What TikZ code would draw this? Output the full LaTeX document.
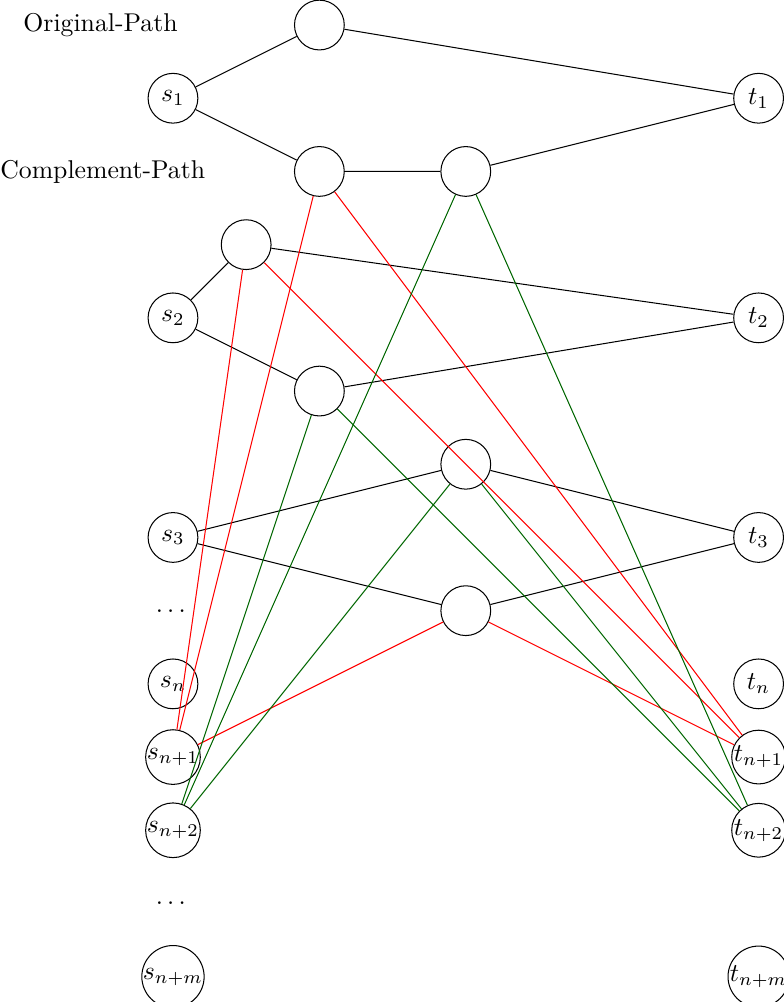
\documentclass[tikz,border=0pt]{standalone}
\usepackage{amsmath,amssymb}
\usepackage{xcolor}
\usepackage{tikz}
\usetikzlibrary{calc}
\definecolor{dgreen}{rgb}{0,0.4,0}

\begin{document}
\begin{tikzpicture}[
    vertex/.style={circle, draw, minimum size=0.68cm, inner sep=0pt},
    redge/.style={red},
    gedge/.style={dgreen}]
        %FRAME
        \useasboundingbox (-2.363,0.342) rectangle (8.347,-13.346);
        %LABELS
        \node (orig) at (-0.99,0) {Original-Path};
        \node (comp) at (-0.96,-2) {Complement-Path};
        %SUMBER
        \node[vertex] (s1) at (0,-1) {$s_1$};
        \node[vertex] (s2) at (0,-4) {$s_2$};
        \node[vertex] (s3) at (0,-7) {$s_3$};
        \node (sdots1) at (0,-8) {$\dots$};
        \node[vertex] (sn) at (0,-9) {$s_n$};
        \node[vertex] (sn1) at (0,-10) {$s_{n+1}$};
        \node[vertex] (sn2) at (0,-11) {$s_{n+2}$};
        \node (sdots2) at (0,-12) {$\dots$};
        \node[vertex] (snm) at (0,-13) {$s_{n+m}$};
        %TUJUAN
        \node[vertex] (t1) at (8,-1) {$t_1$};
        \node[vertex] (t2) at (8,-4) {$t_2$};
        \node[vertex] (t3) at (8,-7) {$t_3$};
        \node[vertex] (tn) at (8,-9) {$t_n$};
        \node[vertex] (tn1) at (8,-10) {$t_{n+1}$};
        \node[vertex] (tn2) at (8,-11) {$t_{n+2}$};
        \node[vertex] (tnm) at (8,-13) {$t_{n+m}$};
        %TENGAH
        \node[vertex] (o1) at (2,0) {};
        \node[vertex] (c1) at (2,-2) {};
        \node[vertex] (c2) at (4,-2) {};
        \node[vertex] (a2) at (1,-3) {};
        \node[vertex] (b2) at (2,-5) {};
        \node[vertex] (a3) at (4,-6) {};
        \node[vertex] (b3) at (4,-8) {};
        %JALUR
        \draw (s1) -- (o1) -- (t1);
        \draw (s1) -- (c1) -- (c2) -- (t1);
        \draw (s2) -- (a2) -- (t2);
        \draw (s2) -- (b2) -- (t2);
        \draw (s3) -- (a3) -- (t3);
        \draw (s3) -- (b3) -- (t3);
        %MERAH
        \draw[redge] (sn1) -- (c1) -- (tn1);
        \draw[redge] (sn1) -- (a2) -- (tn1);
        \draw[redge] (sn1) -- (b3) -- (tn1);
        %HIJAU
        \draw[gedge] (sn2) -- (c2) -- (tn2);
        \draw[gedge] (sn2) -- (b2) -- (tn2);
        \draw[gedge] (sn2) -- (a3) -- (tn2);
    \end{tikzpicture}
\end{document}
